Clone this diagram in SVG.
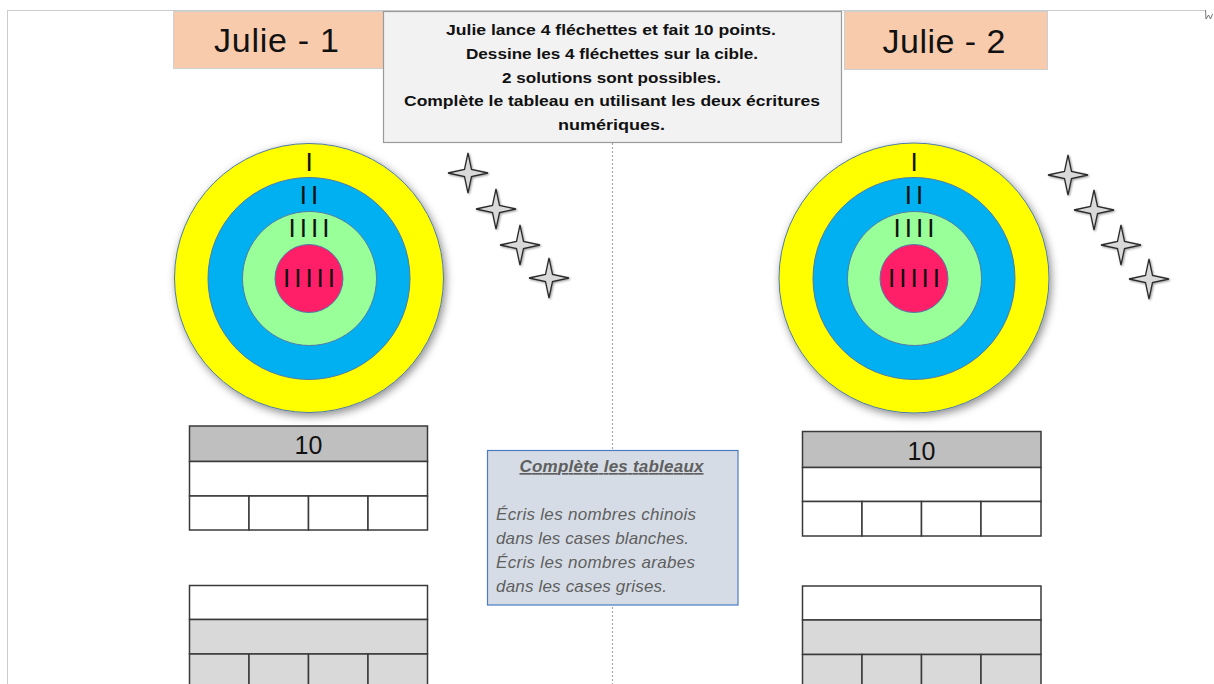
<svg xmlns="http://www.w3.org/2000/svg" xmlns:xlink="http://www.w3.org/1999/xlink" width="1214" height="684" viewBox="0 0 1214 684">
  <style>
    .title { font-family: "Liberation Sans", Arial, sans-serif; font-size: 34px; fill: #111; text-anchor: middle; }
    .instr { font-family: "Liberation Sans", Arial, sans-serif; font-size: 15.5px; font-weight: bold; fill: #111; text-anchor: middle; }
    .tally { font-family: "Liberation Sans", Arial, sans-serif; font-size: 26px; fill: #111; text-anchor: middle; letter-spacing: 4px; }
    .num { font-family: "Liberation Sans", Arial, sans-serif; font-size: 25px; fill: #111; text-anchor: middle; }
    .note { font-family: "Liberation Sans", Arial, sans-serif; font-size: 17px; font-style: italic; fill: #5f5f5f; }
    .noteTitle { font-family: "Liberation Sans", Arial, sans-serif; font-size: 17px; font-style: italic; font-weight: bold; fill: #5f5f5f; text-anchor: middle; text-decoration: underline; }
    .peach { fill: #F8CBAD; stroke: #CFCFCF; stroke-width: 1; }
    .ring { stroke: #4F7BA8; stroke-width: 1; }
    .cell { stroke: #3A3A3A; stroke-width: 1.5; }
    .star { fill: #D9D9D9; stroke: #2A2A2A; stroke-width: 1.3; stroke-linejoin: miter; }
  </style>
  <defs>
    <filter id="shadow" x="-20%" y="-20%" width="140%" height="140%">
      <feGaussianBlur in="SourceAlpha" stdDeviation="4"/>
      <feOffset dx="2" dy="3" result="b"/>
      <feFlood flood-color="#000" flood-opacity="0.45"/>
      <feComposite in2="b" operator="in"/>
      <feMerge><feMergeNode/><feMergeNode in="SourceGraphic"/></feMerge>
    </filter>
    <filter id="starShadow" x="-30%" y="-30%" width="160%" height="160%">
      <feGaussianBlur in="SourceAlpha" stdDeviation="1"/>
      <feOffset dx="0.5" dy="0.5" result="b"/>
      <feFlood flood-color="#000" flood-opacity="0.4"/>
      <feComposite in2="b" operator="in"/>
      <feMerge><feMergeNode/><feMergeNode in="SourceGraphic"/></feMerge>
    </filter>
    <path id="star" d="M0,-20 L3.5,-3.5 L20,0 L3.5,3.5 L0,20 L-3.5,3.5 L-20,0 L-3.5,-3.5 Z"/>
  </defs>

  <rect x="0" y="0" width="1214" height="684" fill="#ffffff"/>

  <!-- page border -->
  <g id="page-border" fill="none" stroke="#CCCCCC" stroke-width="1">
    <line x1="7" y1="10.5" x2="1205" y2="10.5"/>
    <line x1="7.5" y1="10" x2="7.5" y2="684"/>
    <polyline points="1205.5,10 1206,19 1208.5,15 1210.5,19 1212.5,14" stroke="#555" stroke-width="0.8"/>
  </g>

  <!-- connectors (dotted divider) -->
  <g id="connectors">
    <line x1="612.5" y1="143" x2="612.5" y2="684" stroke="#A8A8A8" stroke-width="1.2" stroke-dasharray="2,2"/>
  </g>

  <!-- headers -->
  <g id="header-julie-1">
    <rect class="peach" x="173.5" y="11.5" width="210" height="57"/>
    <text class="title" x="276.5" y="52" textLength="125">Julie - 1</text>
  </g>
  <g id="header-julie-2">
    <rect class="peach" x="844.5" y="11.5" width="203" height="58"/>
    <text class="title" x="944" y="53" textLength="123">Julie - 2</text>
  </g>

  <g id="instructions">
    <rect x="383.5" y="11.5" width="458" height="131" fill="#F2F2F2" stroke="#9A9A9A" stroke-width="1.2"/>
    <text class="instr" x="611" y="35" textLength="330" lengthAdjust="spacingAndGlyphs">Julie lance 4 fléchettes et fait 10 points.</text>
    <text class="instr" x="612" y="59" textLength="292" lengthAdjust="spacingAndGlyphs">Dessine les 4 fléchettes sur la cible.</text>
    <text class="instr" x="611.5" y="83" textLength="219" lengthAdjust="spacingAndGlyphs">2 solutions sont possibles.</text>
    <text class="instr" x="612" y="106" textLength="416" lengthAdjust="spacingAndGlyphs">Complète le tableau en utilisant les deux écritures</text>
    <text class="instr" x="611.5" y="130" textLength="107" lengthAdjust="spacingAndGlyphs">numériques.</text>
  </g>

  <!-- target 1 -->
  <g id="target-1">
    <circle class="ring" cx="309" cy="278" r="134.5" fill="#FFFF00" filter="url(#shadow)"/>
    <circle class="ring" cx="309" cy="278.5" r="101" fill="#00B0F0"/>
    <circle class="ring" cx="309.5" cy="278.5" r="67" fill="#99FF99"/>
    <circle class="ring" cx="309" cy="278.5" r="34" fill="#FF1F68"/>
    <text class="tally" x="311" y="171">I</text>
    <text class="tally" x="311" y="204">II</text>
    <text class="tally" x="311" y="237">IIII</text>
    <text class="tally" x="311" y="287">IIIII</text>
  </g>

  <g id="darts-1" filter="url(#starShadow)">
    <use href="#star" xlink:href="#star" class="star" x="468" y="173"/>
    <use href="#star" xlink:href="#star" class="star" x="496" y="209"/>
    <use href="#star" xlink:href="#star" class="star" x="520" y="245"/>
    <use href="#star" xlink:href="#star" class="star" x="549" y="278"/>
  </g>

  <!-- target 2 -->
  <g id="target-2">
    <circle class="ring" cx="914" cy="278" r="135" fill="#FFFF00" filter="url(#shadow)"/>
    <circle class="ring" cx="914" cy="278.5" r="101" fill="#00B0F0"/>
    <circle class="ring" cx="914.5" cy="278.5" r="67" fill="#99FF99"/>
    <circle class="ring" cx="914" cy="278.5" r="34" fill="#FF1F68"/>
    <text class="tally" x="916" y="171">I</text>
    <text class="tally" x="916" y="204">II</text>
    <text class="tally" x="916" y="237">IIII</text>
    <text class="tally" x="916" y="287">IIIII</text>
  </g>

  <g id="darts-2" filter="url(#starShadow)">
    <use href="#star" xlink:href="#star" class="star" x="1068" y="175"/>
    <use href="#star" xlink:href="#star" class="star" x="1094" y="210"/>
    <use href="#star" xlink:href="#star" class="star" x="1121" y="245"/>
    <use href="#star" xlink:href="#star" class="star" x="1149" y="279"/>
  </g>

  <!-- tables left -->
  <g id="table-1a">
    <rect class="cell" x="189.5" y="426" width="238" height="35.5" fill="#BFBFBF"/>
    <rect class="cell" x="189.5" y="461.5" width="238" height="34.5" fill="#FFFFFF"/>
    <rect class="cell" x="189.5" y="496" width="59.5" height="34" fill="#FFFFFF"/>
    <rect class="cell" x="249" y="496" width="59.5" height="34" fill="#FFFFFF"/>
    <rect class="cell" x="308.5" y="496" width="59.5" height="34" fill="#FFFFFF"/>
    <rect class="cell" x="368" y="496" width="59.5" height="34" fill="#FFFFFF"/>
    <text class="num" x="308.5" y="454">10</text>
  </g>
  <g id="table-1b">
    <rect class="cell" x="189.5" y="585.5" width="238" height="34" fill="#FFFFFF"/>
    <rect class="cell" x="189.5" y="619.5" width="238" height="34.5" fill="#D9D9D9"/>
    <rect class="cell" x="189.5" y="654" width="59.5" height="40" fill="#D9D9D9"/>
    <rect class="cell" x="249" y="654" width="59.5" height="40" fill="#D9D9D9"/>
    <rect class="cell" x="308.5" y="654" width="59.5" height="40" fill="#D9D9D9"/>
    <rect class="cell" x="368" y="654" width="59.5" height="40" fill="#D9D9D9"/>
  </g>

  <!-- tables right -->
  <g id="table-2a">
    <rect class="cell" x="802.5" y="431.5" width="238.5" height="36" fill="#BFBFBF"/>
    <rect class="cell" x="802.5" y="467.5" width="238.5" height="34" fill="#FFFFFF"/>
    <rect class="cell" x="802.5" y="501.5" width="59.5" height="34.5" fill="#FFFFFF"/>
    <rect class="cell" x="862" y="501.5" width="59.5" height="34.5" fill="#FFFFFF"/>
    <rect class="cell" x="921.5" y="501.5" width="59.5" height="34.5" fill="#FFFFFF"/>
    <rect class="cell" x="981" y="501.5" width="60" height="34.5" fill="#FFFFFF"/>
    <text class="num" x="921.5" y="460">10</text>
  </g>
  <g id="table-2b">
    <rect class="cell" x="802.5" y="586" width="238.5" height="34" fill="#FFFFFF"/>
    <rect class="cell" x="802.5" y="620" width="238.5" height="34.5" fill="#D9D9D9"/>
    <rect class="cell" x="802.5" y="654.5" width="59.5" height="40" fill="#D9D9D9"/>
    <rect class="cell" x="862" y="654.5" width="59.5" height="40" fill="#D9D9D9"/>
    <rect class="cell" x="921.5" y="654.5" width="59.5" height="40" fill="#D9D9D9"/>
    <rect class="cell" x="981" y="654.5" width="60" height="40" fill="#D9D9D9"/>
  </g>

  <!-- note box -->
  <g id="note">
    <rect x="487.5" y="450.5" width="250.5" height="154.5" fill="#D6DCE5" stroke="#4A7CC4" stroke-width="1.2"/>
    <text class="noteTitle" x="611.5" y="472" textLength="184">Complète les tableaux</text>
    <text class="note" x="496" y="520" textLength="200">Écris les nombres chinois</text>
    <text class="note" x="496" y="544" textLength="193">dans les cases blanches.</text>
    <text class="note" x="496" y="568" textLength="199">Écris les nombres arabes</text>
    <text class="note" x="496" y="592" textLength="171">dans les cases grises.</text>
  </g>
</svg>
